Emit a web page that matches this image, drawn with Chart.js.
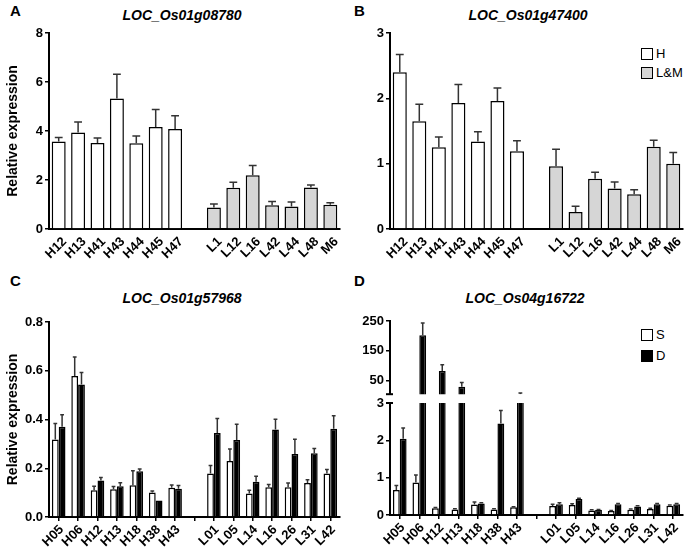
<!DOCTYPE html>
<html>
<head>
<meta charset="utf-8">
<script src="https://cdn.jsdelivr.net/npm/chart.js@4.4.1/dist/chart.umd.min.js"></script>
<style>
  body { margin: 0; background: #fff; font-family: 'Liberation Sans', Arial, sans-serif; }
  #fig { position: relative; width: 686px; height: 548px; overflow: hidden; }
  canvas { position: absolute; }
  .letter { position: absolute; font-weight: bold; font-size: 15px; }
  .gene { position: absolute; width: 200px; text-align: center; font-weight: bold; font-style: italic; font-size: 14px; }
  .key { position: absolute; font-size: 13px; display: flex; align-items: center; }
  .key i { display: inline-block; width: 10px; height: 10px; border: 1.5px solid #000; margin-right: 3px; }
</style>
</head>
<body>
<div id="fig">
  <div class="letter" style="left:10px;top:2px">A</div>
  <div class="letter" style="left:354px;top:2px">B</div>
  <div class="letter" style="left:10px;top:272px">C</div>
  <div class="letter" style="left:354px;top:272px">D</div>

  <div class="gene" style="left:82px;top:7px">LOC_Os01g08780</div>
  <div class="gene" style="left:428px;top:7px">LOC_Os01g47400</div>
  <div class="gene" style="left:82px;top:290px">LOC_Os01g57968</div>
  <div class="gene" style="left:425px;top:290px">LOC_Os04g16722</div>

  <div class="key" style="left:641px;top:46px"><i style="background:#fff"></i>H</div>
  <div class="key" style="left:641px;top:65px"><i style="background:#d6d6d6"></i>L&amp;M</div>
  <div class="key" style="left:641px;top:327px"><i style="background:#fff"></i>S</div>
  <div class="key" style="left:641px;top:348px"><i style="background:#000"></i>D</div>

  <canvas id="chartA" width="343" height="274" style="left:0;top:0"></canvas>
  <canvas id="chartB" width="343" height="274" style="left:343px;top:0"></canvas>
  <canvas id="chartC" width="343" height="274" style="left:0;top:274px"></canvas>
  <canvas id="chartDlow" width="343" height="274" style="left:343px;top:274px"></canvas>
  <canvas id="chartDhigh" width="343" height="130" style="left:343px;top:274px"></canvas>
</div>
<script>
// lines for panels A and B
const abH = ['H12', 'H13', 'H41', 'H43', 'H44', 'H45', 'H47'];
const abL = ['L1', 'L12', 'L16', 'L42', 'L44', 'L48', 'M6'];

const aHMean = [3.57, 3.94, 3.51, 5.33, 3.50, 4.16, 4.08];
const aHErr  = [3.73, 4.37, 3.71, 6.32, 3.80, 4.88, 4.62];
const aLMean = [0.88, 1.68, 2.19, 0.97, 0.92, 1.69, 0.99];
const aLErr  = [1.02, 1.91, 2.59, 1.12, 1.10, 1.80, 1.07];
const aTicks = [0, 2, 4, 6, 8];

const bHMean = [2.40, 1.65, 1.25, 1.93, 1.34, 1.96, 1.19];
const bHErr  = [2.67, 1.91, 1.41, 2.21, 1.49, 2.16, 1.35];
const bLMean = [0.96, 0.26, 0.77, 0.62, 0.53, 1.26, 1.00];
const bLErr  = [1.22, 0.35, 0.87, 0.72, 0.60, 1.36, 1.17];
const bTicks = [0, 1, 2, 3];

// lines for panels C and D
const cdH = ['H05', 'H06', 'H12', 'H13', 'H18', 'H38', 'H43'];
const cdL = ['L01', 'L05', 'L14', 'L16', 'L26', 'L31', 'L42'];

const cSMean = [0.318, 0.578, 0.110, 0.114, 0.130, 0.101, 0.120, 0.178, 0.230, 0.096, 0.122, 0.122, 0.140, 0.178];
const cSErr  = [0.384, 0.656, 0.126, 0.125, 0.190, 0.107, 0.131, 0.211, 0.279, 0.110, 0.133, 0.140, 0.153, 0.195];
const cDMean = [0.370, 0.544, 0.150, 0.126, 0.188, 0.068, 0.116, 0.345, 0.316, 0.145, 0.359, 0.258, 0.262, 0.362];
const cDErr  = [0.420, 0.593, 0.162, 0.141, 0.197, 0.068, 0.129, 0.404, 0.381, 0.167, 0.401, 0.319, 0.281, 0.415];
const cTicks = [0, 0.2, 0.4, 0.6, 0.8];

const dSMean = [0.67, 0.87, 0.18, 0.15, 0.28, 0.15, 0.21, 0.24, 0.27, 0.12, 0.11, 0.14, 0.16, 0.25];
const dSErr  = [0.79, 1.07, 0.20, 0.17, 0.35, 0.17, 0.22, 0.29, 0.30, 0.14, 0.12, 0.16, 0.18, 0.27];
const dDMean = [2.04, 202, 82, 29, 0.31, 2.45, 3.8, 0.29, 0.43, 0.14, 0.29, 0.23, 0.29, 0.29];
const dDErr  = [2.33, 243, 103, 43, 0.33, 2.80, 8, 0.33, 0.45, 0.15, 0.31, 0.25, 0.31, 0.31];
const dLowTicks = [0, 1, 2, 3];
const dHighTicks = [50, 100, 150, 200, 250];
const dHighMin = 4;

const WHITE = '#ffffff', GREY = '#d6d6d6', BLACK = '#000000';

Chart.defaults.font.family = "'Liberation Sans', Arial, sans-serif";
Chart.defaults.font.size = 13;
Chart.defaults.font.weight = 'bold';
Chart.defaults.color = '#000';

// H values, empty slot, L values
const withGap = vals => [...vals.slice(0, 7), null, ...vals.slice(7)];
const splitH = vals => [...vals, null, ...vals.map(() => null)];
const splitL = vals => [...vals.map(() => null), null, ...vals];

// one-sided error bars (upper only) drawn from the bar's own scales
const errorBars = {
  id: 'errorBars',
  afterDatasetsDraw(chart) {
    const { ctx, chartArea } = chart;
    ctx.save();
    ctx.beginPath();
    ctx.rect(chartArea.left, chartArea.top, chartArea.right - chartArea.left, chartArea.bottom - chartArea.top);
    ctx.clip();
    ctx.strokeStyle = '#333';
    ctx.lineWidth = 1.5;
    ctx.beginPath();
    chart.data.datasets.forEach((ds, i) => {
      if (!ds.errors) return;
      const meta = chart.getDatasetMeta(i);
      const ys = meta.vScale;
      meta.data.forEach((bar, j) => {
        const e = ds.errors[j];
        const v = ds.data[j] == null ? ys.min : ds.data[j];
        if (e == null || e <= v) return;
        const yTop = ys.getPixelForValue(e);
        const yBar = ys.getPixelForValue(v);
        const half = bar.width * 0.28;
        ctx.moveTo(bar.x, yBar);
        ctx.lineTo(bar.x, yTop);
        ctx.moveTo(bar.x - half, yTop);
        ctx.lineTo(bar.x + half, yTop);
      });
    });
    ctx.stroke();
    ctx.restore();
  }
};

// small crossbar where the y axis is cut
const axisBreak = {
  id: 'axisBreak',
  afterDraw(chart, args, opts) {
    if (!opts.edge) return;
    const { ctx, chartArea } = chart;
    const y = opts.edge === 'top' ? chartArea.top : chartArea.bottom;
    ctx.save();
    ctx.strokeStyle = BLACK;
    ctx.lineWidth = 2;
    ctx.beginPath();
    ctx.moveTo(chartArea.left - 4, y);
    ctx.lineTo(chartArea.left + 3, y);
    ctx.stroke();
    ctx.restore();
  }
};

function panel(id, o) {
  return new Chart(document.getElementById(id), {
    type: 'bar',
    data: { labels: o.labels, datasets: o.datasets },
    options: {
      responsive: false,
      animation: false,
      events: [],
      layout: { padding: { top: o.top, right: 3, bottom: o.bottom || 0, left: 0 } },
      plugins: {
        legend: { display: false },
        tooltip: { enabled: false },
        axisBreak: { edge: o.breakEdge || null }
      },
      datasets: {
        bar: {
          categoryPercentage: o.catPct,
          barPercentage: 1,
          borderWidth: 1.5,
          borderColor: BLACK,
          grouped: o.grouped,
          clip: 0
        }
      },
      scales: {
        x: {
          display: o.showX,
          afterFit: s => { s.height = o.xHeight; },
          border: { color: BLACK, width: 2 },
          grid: { display: o.xTicks, drawOnChartArea: false, offset: false, tickLength: 4, color: BLACK, lineWidth: 1.5 },
          ticks: { autoSkip: false, minRotation: 45, maxRotation: 45, padding: 1, labelOffset: o.xTicks ? 3 : 6 }
        },
        y: {
          min: o.min,
          max: o.ticks[o.ticks.length - 1],
          afterFit: s => { s.width = o.yWidth; },
          afterBuildTicks: s => { s.ticks = o.ticks.map(v => ({ value: v })); },
          border: { color: BLACK, width: 2 },
          grid: { drawOnChartArea: false, tickLength: 4, color: BLACK, lineWidth: 1.5 },
          ticks: { padding: 2, callback: o.fmt || (v => v) },
          title: {
            display: !!o.yTitle,
            text: o.yTitle || '',
            font: { size: 14, weight: 'bold' },
            padding: { top: 5, bottom: 0 }
          }
        }
      }
    },
    plugins: [errorBars, axisBreak]
  });
}

const abLabels = [...abH, '', ...abL];
const cdLabels = [...cdH, '', ...cdL];

panel('chartA', {
  labels: abLabels, top: 33, xHeight: 45, yWidth: 49, min: 0, ticks: aTicks,
  catPct: 0.72, grouped: false, showX: true, xTicks: false, yTitle: 'Relative expression',
  datasets: [
    { label: 'H', data: splitH(aHMean), errors: splitH(aHErr), backgroundColor: WHITE },
    { label: 'L&M', data: splitL(aLMean), errors: splitL(aLErr), backgroundColor: GREY }
  ]
});

panel('chartB', {
  labels: abLabels, top: 33, xHeight: 45, yWidth: 47, min: 0, ticks: bTicks,
  catPct: 0.72, grouped: false, showX: true, xTicks: false,
  datasets: [
    { label: 'H', data: splitH(bHMean), errors: splitH(bHErr), backgroundColor: WHITE },
    { label: 'L&M', data: splitL(bLMean), errors: splitL(bLErr), backgroundColor: GREY }
  ]
});

panel('chartC', {
  labels: cdLabels, top: 48, xHeight: 31, yWidth: 49, min: 0, ticks: cTicks,
  catPct: 0.7, grouped: true, showX: true, xTicks: true, yTitle: 'Relative expression',
  fmt: v => v.toFixed(1),
  datasets: [
    { label: 'S', data: withGap(cSMean), errors: withGap(cSErr), backgroundColor: WHITE },
    { label: 'D', data: withGap(cDMean), errors: withGap(cDErr), backgroundColor: BLACK }
  ]
});

// lower part of the broken axis
panel('chartDlow', {
  labels: cdLabels, top: 129, xHeight: 33, yWidth: 47, min: 0, ticks: dLowTicks,
  catPct: 0.7, grouped: true, showX: true, xTicks: true, breakEdge: 'top',
  datasets: [
    { label: 'S', data: withGap(dSMean), errors: withGap(dSErr), backgroundColor: WHITE },
    { label: 'D', data: withGap(dDMean), errors: withGap(dDErr), backgroundColor: BLACK }
  ]
});

// upper part of the broken axis: only values above its floor get a bar
const aboveFloor = vals => withGap(vals).map(v => (v != null && v > dHighMin ? v : null));
panel('chartDhigh', {
  labels: cdLabels, top: 47, bottom: 9, xHeight: 0, yWidth: 47, min: dHighMin, ticks: dHighTicks,
  catPct: 0.7, grouped: true, showX: false, xTicks: false, breakEdge: 'bottom',
  datasets: [
    { label: 'S', data: aboveFloor(dSMean), errors: withGap(dSErr), backgroundColor: WHITE },
    { label: 'D', data: aboveFloor(dDMean), errors: withGap(dDErr), backgroundColor: BLACK }
  ]
});
</script>
</body>
</html>
